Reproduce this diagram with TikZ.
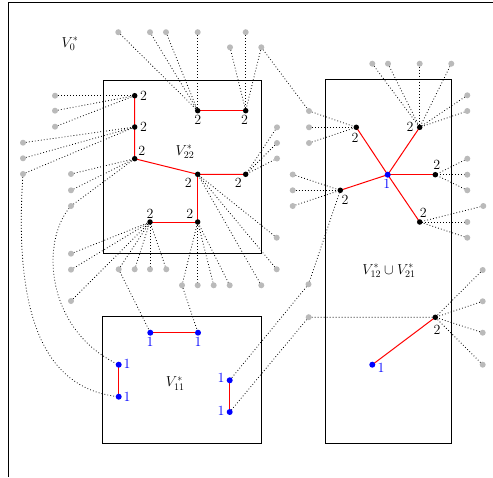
\documentclass[tikz,border=0pt]{standalone}
\usetikzlibrary{backgrounds}
\tikzset{
 gdot/.style={circle, fill=black!27, inner sep=0pt, minimum size=6pt},
 bdot/.style={circle, fill=black, inner sep=0pt, minimum size=5.5pt},
 udot/.style={circle, fill=blue, inner sep=0pt, minimum size=6pt},
 redge/.style={red, line width=1pt},
 dedge/.style={dash pattern=on 0.8pt off 2.2pt, line width=0.8pt},
 boxline/.style={draw, line width=0.7pt},
 num/.style={font=\fontsize{14}{16}\selectfont, inner sep=0pt},
 bnum/.style={num, text=blue},
 vlab/.style={font=\fontsize{14}{16}\selectfont, inner sep=0pt},
}
\begin{document}
\begin{tikzpicture}[x=1pt,y=-1pt]
\useasboundingbox (0,0) rectangle (493,477);
% outer frame
\draw[line width=0.8pt] (8,477) -- (8,2) -- (493,2);
% boxes
\draw[boxline] (103,80) rectangle (261.5,253.3);
\draw[boxline] (325,79.5) rectangle (451.3,443.3);
\draw[boxline] (102.7,316.7) rectangle (261,443.7);
% region labels
\node[vlab] (v0) at (70,44) {$V_0^*$};
\node[vlab] (v22) at (185,152) {$V_{22}^*$};
\node[vlab] (v1221) at (389,271) {$V_{12}^*\cup V_{21}^*$};
\node[vlab] (v11) at (175.3,383.7) {$V_{11}^*$};
% black nodes
\node[bdot] (A1) at (134.7,95.7) {};
\node[bdot] (A2) at (134.7,127) {};
\node[bdot] (A3) at (134.7,158.7) {};
\node[bdot] (A4) at (197.7,174.3) {};
\node[bdot] (A5) at (245.7,174.3) {};
\node[bdot] (A6) at (197.7,222) {};
\node[bdot] (A7) at (150,222) {};
\node[bdot] (A8) at (197.7,110.7) {};
\node[bdot] (A9) at (245.7,110.7) {};
\node[udot] (C) at (387.7,174.7) {};
\node[bdot] (R1) at (356.3,127.3) {};
\node[bdot] (R2) at (419.7,127.3) {};
\node[bdot] (R3) at (435.3,174.7) {};
\node[bdot] (R4) at (419.7,222) {};
\node[bdot] (R5) at (340.3,190.3) {};
\node[bdot] (R6) at (435.3,317.3) {};
\node[udot] (R7) at (372.3,364.7) {};
\node[udot] (B1) at (150.3,332.7) {};
\node[udot] (B2) at (198,332.7) {};
\node[udot] (B3) at (118.7,364.7) {};
\node[udot] (B4) at (118.7,396.7) {};
\node[udot] (B5) at (229.7,380.3) {};
\node[udot] (B6) at (229.7,412) {};
% number labels
\node[num] (lA1) at (143.5,96) {2};
\node[num] (lA2) at (143.5,127) {2};
\node[num] (lA3) at (141.7,150.8) {2};
\node[num] (lA4) at (188.3,183.3) {2};
\node[num] (lA5) at (238.3,182.8) {2};
\node[num] (lA6) at (189.7,214.3) {2};
\node[num] (lA7) at (150,213.5) {2};
\node[num] (lA8) at (197.8,119.7) {2};
\node[num] (lA9) at (244.5,119.7) {2};
\node[num] (lR1) at (355,138) {2};
\node[num] (lR2) at (410,127) {2};
\node[num] (lR3) at (436.7,165.3) {2};
\node[num] (lR4) at (423.3,213.3) {2};
\node[num] (lR5) at (345,200) {2};
\node[num] (lR6) at (437,330) {2};
\node[bnum] (lC) at (386.7,184) {1};
\node[bnum] (lR7) at (381,368.3) {1};
\node[bnum] (lB1) at (150,342.3) {1};
\node[bnum] (lB2) at (198,342.3) {1};
\node[bnum] (lB3) at (127,364.3) {1};
\node[bnum] (lB4) at (127,396.7) {1};
\node[bnum] (lB5) at (221,378.3) {1};
\node[bnum] (lB6) at (221,411) {1};
% gray dots
\node[gdot] (g1) at (55,95.7) {};
\node[gdot] (g2) at (55,110.7) {};
\node[gdot] (g3) at (55,126.7) {};
\node[gdot] (g4) at (23,142.7) {};
\node[gdot] (g5) at (23,158.3) {};
\node[gdot] (g6) at (23,174) {};
\node[gdot] (g7) at (71,174) {};
\node[gdot] (g8) at (71,190.3) {};
\node[gdot] (g9) at (71,206) {};
\node[gdot] (g10) at (71,253.7) {};
\node[gdot] (g11) at (71,269.7) {};
\node[gdot] (g12) at (71,301) {};
\node[gdot] (g13) at (118.7,269.3) {};
\node[gdot] (g14) at (134.7,269.3) {};
\node[gdot] (g15) at (150,269.3) {};
\node[gdot] (g16) at (166.3,269.3) {};
\node[gdot] (g17) at (182,285.3) {};
\node[gdot] (g18) at (197.7,285.3) {};
\node[gdot] (g19) at (213.7,285.3) {};
\node[gdot] (g20) at (229.7,285.3) {};
\node[gdot] (g21) at (276.7,237.7) {};
\node[gdot] (g22) at (276.7,269.3) {};
\node[gdot] (g23) at (261.3,285.3) {};
\node[gdot] (g24) at (277,127.3) {};
\node[gdot] (g25) at (277,143) {};
\node[gdot] (g26) at (277,158.5) {};
\node[gdot] (g27) at (118.3,32.2) {};
\node[gdot] (g28) at (150,32.2) {};
\node[gdot] (g29) at (166,32.2) {};
\node[gdot] (g30) at (197.7,32.2) {};
\node[gdot] (g31) at (245.7,32.2) {};
\node[gdot] (g32) at (230,47.3) {};
\node[gdot] (g33) at (261.3,47.3) {};
\node[gdot] (g34) at (309,111) {};
\node[gdot] (g35) at (309,127.3) {};
\node[gdot] (g36) at (309,143) {};
\node[gdot] (g37) at (372.3,63.7) {};
\node[gdot] (g38) at (388,63.7) {};
\node[gdot] (g39) at (419.7,63.7) {};
\node[gdot] (g40) at (451.3,63.7) {};
\node[gdot] (g41) at (467.3,95.3) {};
\node[gdot] (g42) at (467.3,111) {};
\node[gdot] (g43) at (467.3,158.7) {};
\node[gdot] (g44) at (467.3,174.7) {};
\node[gdot] (g45) at (467.3,190.3) {};
\node[gdot] (g46) at (483.3,206) {};
\node[gdot] (g47) at (467.3,222) {};
\node[gdot] (g48) at (467.3,237.7) {};
\node[gdot] (g49) at (292.7,174.5) {};
\node[gdot] (g50) at (292.7,190.3) {};
\node[gdot] (g51) at (292.7,206) {};
\node[gdot] (g52) at (308.5,284.3) {};
\node[gdot] (g53) at (308.7,317.2) {};
\node[gdot] (g54) at (482.7,270) {};
\node[gdot] (g55) at (482.7,301.3) {};
\node[gdot] (g56) at (482.7,332.7) {};
\node[gdot] (g57) at (482.7,364.7) {};
\begin{scope}[on background layer]
% red edges
\draw[redge] (A1.center) -- (A2.center) -- (A3.center) -- (A4.center) -- (A5.center);
\draw[redge] (A4.center) -- (A6.center) -- (A7.center);
\draw[redge] (A8.center) -- (A9.center);
\foreach \r in {R1,R2,R3,R4,R5} \draw[redge] (C.center) -- (\r.center);
\draw[redge] (R6.center) -- (R7.center);
\draw[redge] (B1.center) -- (B2.center);
\draw[redge] (B3.center) -- (B4.center);
\draw[redge] (B5.center) -- (B6.center);
% dotted edges
\foreach \g in {g1,g2,g3} \draw[dedge] (\g.center) -- (A1.center);
\foreach \g in {g4,g5,g6} \draw[dedge] (\g.center) -- (A2.center);
\foreach \g in {g7,g8,g9} \draw[dedge] (\g.center) -- (A3.center);
\foreach \g in {g10,g11,g12,g13,g14,g15,g16} \draw[dedge] (\g.center) -- (A7.center);
\foreach \g in {g17,g18,g19,g20} \draw[dedge] (\g.center) -- (A6.center);
\foreach \g in {g21,g22,g23} \draw[dedge] (\g.center) -- (A4.center);
\foreach \g in {g24,g25,g26} \draw[dedge] (\g.center) -- (A5.center);
\foreach \g in {g27,g28,g29,g30} \draw[dedge] (\g.center) -- (A8.center);
\foreach \g in {g31,g32,g33} \draw[dedge] (\g.center) -- (A9.center);
\foreach \g in {g34,g35,g36} \draw[dedge] (\g.center) -- (R1.center);
\foreach \g in {g37,g38,g39,g40,g41,g42} \draw[dedge] (\g.center) -- (R2.center);
\foreach \g in {g43,g44,g45} \draw[dedge] (\g.center) -- (R3.center);
\foreach \g in {g46,g47,g48} \draw[dedge] (\g.center) -- (R4.center);
\foreach \g in {g49,g50,g51,g52} \draw[dedge] (\g.center) -- (R5.center);
\foreach \g in {g53,g54,g55,g56,g57} \draw[dedge] (\g.center) -- (R6.center);
\draw[dedge] (g33.center) -- (g34.center);
\draw[dedge] (g13.center) -- (B1.center);
\draw[dedge] (g17.center) -- (B2.center);
\draw[dedge] (g52.center) -- (B5.center);
\draw[dedge] (g53.center) -- (B6.center);
\draw[dedge] (g6.center) .. controls (12,335) and (55,390) .. (B4.center);
\draw[dedge] (g9.center) .. controls (40,240) and (45,330) .. (B3.center);
\end{scope}
\end{tikzpicture}
\end{document}
